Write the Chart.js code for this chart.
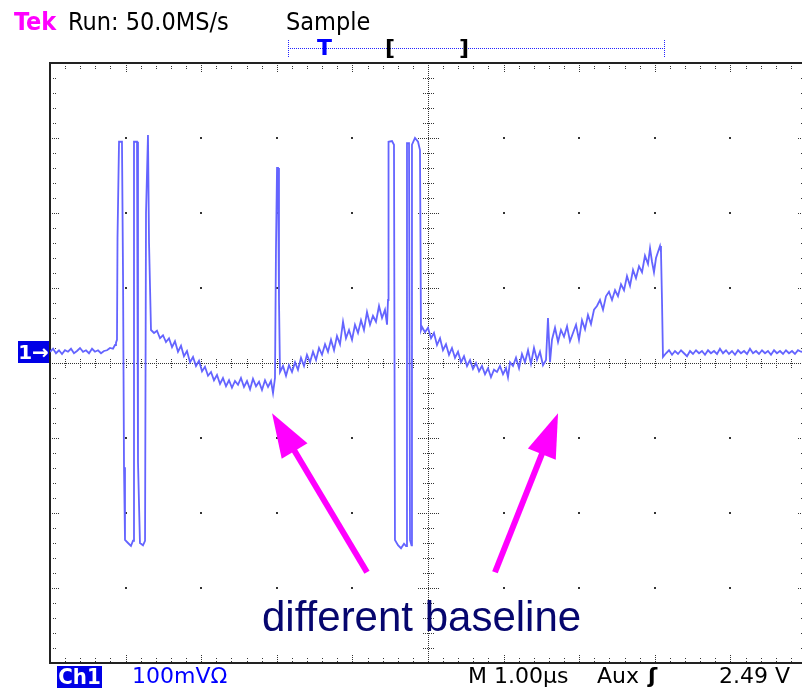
<!DOCTYPE html>
<html>
<head>
<meta charset="utf-8">
<script src="https://cdn.jsdelivr.net/npm/chart.js@4"></script>
<style>
html, body { margin: 0; padding: 0; overflow: hidden; background: #fff; width: 802px; height: 688px; }
#scope { position: absolute; left: 0; top: 0; }
.t { position: absolute; white-space: nowrap; line-height: 1; font-family: 'DejaVu Sans', sans-serif; }
.hdr { font-family: 'DejaVu Sans Condensed', 'DejaVu Sans', sans-serif; font-size: 25px; top: 9px; color: #000; }
.ftr { font-size: 22px; top: 665px; color: #000; }
.box { background: #0000e6; color: #fff; text-align: center; }
</style>
</head>
<body>
<canvas id="scope" width="812" height="688"></canvas>

<div class="t hdr" style="left:14px;color:#ff00ff;font-weight:bold">Tek</div>
<div class="t hdr" style="left:68px">Run: 50.0MS/s</div>
<div class="t hdr" style="left:286px">Sample</div>

<!-- trigger position bar -->
<div style="position:absolute;left:288px;top:48px;width:377px;border-top:1px dotted #2222ff"></div>
<div style="position:absolute;left:288px;top:40px;height:17px;border-left:1px dotted #2222ff"></div>
<div style="position:absolute;left:664px;top:40px;height:17px;border-left:1px dotted #2222ff"></div>
<div class="t" style="left:317px;top:37px;font-size:22px;font-weight:bold;color:#0000ff">T</div>
<div class="t" style="left:385px;top:37px;font-size:22px;font-weight:bold;color:#000">[</div>
<div class="t" style="left:459px;top:37px;font-size:22px;font-weight:bold;color:#000">]</div>

<div class="t box" style="left:18px;top:341px;width:31px;height:22px;line-height:22px;font-size:20px;font-weight:bold">1→</div>

<div class="t ftr box" style="left:57px;top:666px;width:45px;height:22px;line-height:22px;font-family:'DejaVu Sans Condensed','DejaVu Sans',sans-serif;font-weight:bold">Ch1</div>
<div class="t ftr" style="left:132px;color:#0000ff">100mVΩ</div>
<div class="t ftr" style="left:468px">M 1.00µs</div>
<div class="t ftr" style="left:597px">Aux</div>
<div class="t ftr" style="left:648px;font-weight:bold">ʃ</div>
<div class="t ftr" style="left:719px">2.49 V</div>

<div class="t" style="left:262px;top:596px;font-family:'Liberation Sans',Arial,sans-serif;font-size:42px;color:#06066e">different baseline</div>

<script>
// sample times in µs (1 µs/div, 10 div on screen)
const timeUs = [
  0.000, 0.040, 0.079, 0.119, 0.159, 0.198, 0.238, 0.278, 0.317, 0.357, 0.397, 0.437, 0.476, 0.516, 0.556, 0.595, 0.635, 0.675, 0.714, 0.754, 0.794, 0.833, 0.860, 0.873,
  0.886, 0.893, 0.913, 0.952, 0.966, 0.979, 0.992, 1.032, 1.071, 1.098, 1.111, 1.151, 1.164, 1.190, 1.230, 1.257, 1.270, 1.296, 1.310, 1.336,
  1.376, 1.415, 1.455, 1.495, 1.534, 1.574, 1.614, 1.653, 1.693, 1.733, 1.772, 1.812, 1.852, 1.892, 1.931, 1.971, 2.011, 2.050, 2.090, 2.130,
  2.169, 2.209, 2.249, 2.288, 2.328, 2.368, 2.407, 2.447, 2.487, 2.526, 2.566, 2.606, 2.646, 2.685, 2.725, 2.765, 2.804, 2.844, 2.884, 2.923, 2.950, 2.976,
  2.989, 3.003, 3.016, 3.029, 3.042,
  3.082, 3.122, 3.161, 3.201, 3.241, 3.280, 3.320, 3.360, 3.399, 3.439, 3.479, 3.519, 3.558, 3.598, 3.638, 3.677, 3.717, 3.757,
  3.796, 3.836, 3.876, 3.915, 3.955, 3.995, 4.034, 4.074, 4.114, 4.153, 4.193, 4.233, 4.272, 4.312, 4.352, 4.392, 4.431, 4.458,
  4.471, 4.478, 4.524, 4.550, 4.563, 4.603, 4.643, 4.683, 4.709, 4.722, 4.749, 4.762, 4.782, 4.788, 4.828, 4.868, 4.894, 4.907,
  4.921, 4.960, 5.000, 5.040, 5.079, 5.119, 5.159, 5.198, 5.238, 5.278, 5.317, 5.357, 5.397, 5.437, 5.476, 5.516,
  5.556, 5.595, 5.635, 5.675, 5.714, 5.754, 5.794, 5.833, 5.873, 5.913, 5.952, 5.992, 6.032, 6.058, 6.085,
  6.124, 6.164, 6.204, 6.243, 6.283, 6.323, 6.362, 6.402, 6.442, 6.481, 6.521, 6.561, 6.587, 6.614, 6.640,
  6.680, 6.720, 6.759, 6.799, 6.839, 6.878, 6.918, 6.958, 6.997, 7.037, 7.077, 7.116, 7.156, 7.196, 7.235, 7.275, 7.315,
  7.354, 7.394, 7.434, 7.474, 7.513, 7.553, 7.593, 7.632, 7.672, 7.712, 7.751, 7.791, 7.831, 7.870, 7.910,
  7.937, 7.963, 7.989, 8.016, 8.042, 8.069, 8.082, 8.095, 8.108,
  8.148, 8.188, 8.228, 8.267, 8.307, 8.347, 8.386, 8.426, 8.466, 8.505, 8.545, 8.585, 8.624, 8.664, 8.704, 8.743,
  8.783, 8.823, 8.862, 8.902, 8.942, 8.981, 9.021, 9.061, 9.101, 9.140, 9.180, 9.220, 9.259, 9.299, 9.339, 9.378,
  9.418, 9.458, 9.497, 9.537, 9.577, 9.616, 9.656, 9.696, 9.735, 9.775, 9.815, 9.854, 9.894, 9.934, 10.000
];

// Ch1 in mV from screen centre (100 mV/div)
const ch1mV = [
  15, 19, 13, 17, 12, 17, 15, 19, 13, 16, 20, 15, 17, 13, 19, 15, 17, 13, 16, 17, 20, 19, 24, 27,
  31, 167, 295, 295, 117, -139, -236, -240, -244, -237, 295, 295, -132, -240, -243, -237, 200, 304, 160, 44,
  40, 43, 33, 37, 28, 33, 21, 29, 15, 23, 9, 16, 1, 8, -4, 3, -11, -5, -17, -12,
  -23, -16, -28, -20, -31, -23, -33, -24, -29, -20, -32, -24, -35, -21, -31, -25, -36, -23, -32, -24, -40, -20,
  151, 260, 260, 84, -12,
  -4, -17, -3, -12, 1, -9, 7, -4, 11, 1, 15, 4, 20, 11, 25, 15, 31, 17,
  36, 25, 55, 33, 44, 31, 51, 40, 57, 44, 68, 51, 63, 55, 76, 60, 71, 51,
  84, 295, 296, 291, -236, -243, -247, -241, -244, 293, 293, -236, -243, 291, 300, 295, 284, 44,
  48, 41, 47, 33, 40, 24, 33, 17, 25, 11, 20, 7, 15, 1, 9, -4,
  4, -8, 0, -11, -4, -15, -7, -19, -9, -12, -4, -15, -7, -19, 1,
  -4, 7, -7, 12, 1, 17, -1, 20, 4, 15, -3, 4, 60, 1, 31,
  47, 28, 44, 35, 49, 29, 40, 51, 31, 57, 45, 64, 52, 71, 76, 84, 71,
  89, 95, 84, 97, 89, 105, 97, 116, 103, 124, 113, 129, 121, 143, 132,
  153, 135, 121, 140, 148, 156, 148, 84, 8,
  13, 17, 11, 16, 12, 17, 13, 9, 16, 12, 17, 13, 16, 11, 17, 13,
  16, 12, 19, 13, 17, 12, 16, 11, 17, 13, 16, 12, 19, 13, 16, 12,
  17, 13, 16, 11, 17, 13, 16, 12, 17, 13, 16, 12, 17, 15, 14
];

// annotation arrows: tail -> tip, in (µs, mV)
const arrows = [
  { from: [4.193, -279], to: [2.937, -67] },
  { from: [5.886, -279], to: [6.720, -67] }
];

function dots(ctx, x1, y1, x2, y2, step) {
  const len = Math.hypot(x2 - x1, y2 - y1);
  const n = Math.max(1, Math.floor(len / step));
  for (let i = 0; i <= n; i++) {
    ctx.fillRect(Math.round(x1 + (x2 - x1) * i / n), Math.round(y1 + (y2 - y1) * i / n), 1, 1);
  }
}

const graticule = {
  id: 'graticule',
  beforeDatasetsDraw(chart) {
    const { ctx, chartArea: a, scales: { x, y } } = chart;
    const cx = Math.round(x.getPixelForValue(5));
    const cy = Math.round(y.getPixelForValue(0));
    ctx.save();
    ctx.fillStyle = '#333';

    // major division dots
    for (let i = 1; i < 10; i++) {
      for (let j = -3; j <= 3; j++) {
        if (i === 5 || j === 0) continue;
        ctx.fillRect(Math.round(x.getPixelForValue(i)) - 1, Math.round(y.getPixelForValue(j * 100)) - 1, 2, 2);
      }
    }

    // centre cross
    dots(ctx, a.left, cy, a.right, cy, 2);
    dots(ctx, cx, a.top, cx, a.bottom, 2);

    // minor ticks along x
    for (let k = 1; k < 50; k++) {
      const px = Math.round(x.getPixelForValue(k * 0.2));
      const len = k % 5 === 0 ? 8 : 5;
      dots(ctx, px, a.top, px, a.top + len, 2);
      dots(ctx, px, a.bottom - len, px, a.bottom, 2);
      dots(ctx, px, cy - 4, px, cy + 4, 2);
    }
    // minor ticks along y
    for (let k = -19; k < 20; k++) {
      const py = Math.round(y.getPixelForValue(k * 20));
      const len = k % 5 === 0 ? 8 : 5;
      dots(ctx, a.left, py, a.left + len, py, 2);
      dots(ctx, a.right - len, py, a.right, py, 2);
      const w = k % 5 === 0 ? 10 : 5;
      dots(ctx, cx - w, py, cx + w, py, 2);
    }

    ctx.strokeStyle = '#222';
    ctx.lineWidth = 2;
    ctx.strokeRect(a.left, a.top, a.right - a.left, a.bottom - a.top);
    ctx.restore();
  }
};

const arrowPlugin = {
  id: 'arrowPlugin',
  afterDatasetsDraw(chart) {
    const { ctx, scales: { x, y } } = chart;
    ctx.save();
    ctx.strokeStyle = '#ff00ff';
    ctx.fillStyle = '#ff00ff';
    ctx.lineWidth = 6;
    arrows.forEach(function (ar) {
      const x1 = x.getPixelForValue(ar.from[0]), y1 = y.getPixelForValue(ar.from[1]);
      const x2 = x.getPixelForValue(ar.to[0]), y2 = y.getPixelForValue(ar.to[1]);
      const len = Math.hypot(x2 - x1, y2 - y1);
      const ux = (x2 - x1) / len, uy = (y2 - y1) / len;
      const head = 44, half = 15;
      const bx = x2 - ux * head, by = y2 - uy * head;
      ctx.beginPath();
      ctx.moveTo(x1, y1);
      ctx.lineTo(bx + ux * 2, by + uy * 2);
      ctx.stroke();
      ctx.beginPath();
      ctx.moveTo(x2, y2);
      ctx.lineTo(bx - uy * half, by + ux * half);
      ctx.lineTo(bx + uy * half, by - ux * half);
      ctx.closePath();
      ctx.fill();
    });
    ctx.restore();
  }
};

const config = {
  type: 'line',
  data: {
    datasets: [{
      label: 'Ch1',
      data: timeUs.map(function (t, i) { return { x: t, y: ch1mV[i] }; }),
      borderColor: '#6464ff',
      borderWidth: 1.8,
      pointRadius: 0,
      tension: 0,
      fill: false
    }]
  },
  options: {
    responsive: false,
    animation: false,
    devicePixelRatio: 1,
    layout: { padding: { left: 50, top: 63, right: 6, bottom: 25 } },
    plugins: {
      legend: { display: false },
      tooltip: { enabled: false }
    },
    scales: {
      x: { type: 'linear', min: 0, max: 10, display: false },
      y: { type: 'linear', min: -400, max: 400, display: false }
    }
  },
  plugins: [graticule, arrowPlugin]
};

const ctx = document.getElementById('scope').getContext('2d');
window.scopeChart = new Chart(ctx, config);
</script>
</body>
</html>
